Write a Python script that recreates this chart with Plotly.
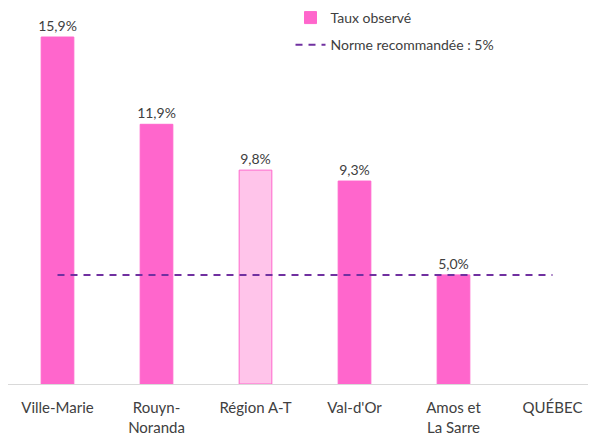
import plotly.graph_objects as go

categories = ["Ville-Marie", "Rouyn-<br>Noranda", "Région A-T", "Val-d'Or", "Amos et<br>La Sarre", "QUÉBEC"]
taux = [15.9, 11.9, 9.8, 9.3, 5.0, None]
norme = [5, 5, 5, 5, 5, 5]
bar_colors = ["#FF66CC", "#FF66CC", "#FFC4EA", "#FF66CC", "#FF66CC", "#FF66CC"]

labels = [("" if v is None else f"{v:.1f}%".replace(".", ",")) for v in taux]

fig = go.Figure()
fig.add_trace(go.Bar(
    x=categories, y=taux, name="Taux observé", legendgroup="a",
    marker=dict(color=bar_colors, line=dict(color="#FF66CC", width=1)),
    text=labels, textposition="outside", cliponaxis=False, constraintext="none",
    textfont=dict(color="#404040", size=14, family="Lato"),
))
fig.add_trace(go.Scatter(
    x=categories, y=norme, name="Norme recommandée : 5%", mode="lines", legendgroup="b",
    line=dict(color="#7030A0", width=2, dash="7px,6px"),
))

fig.update_layout(
    width=596, height=434,
    margin=dict(l=0, r=2, t=0, b=58, autoexpand=False),
    plot_bgcolor="white", paper_bgcolor="white",
    bargap=0.67,
    font=dict(family="Lato", size=14, color="#404040"),
    showlegend=True,
    legend=dict(x=0.4756, y=1.016, xanchor="left", yanchor="top",
                bgcolor="rgba(0,0,0,0)", font=dict(size=14, color="#404040"),
                tracegroupgap=6, itemwidth=30, traceorder="grouped"),
    xaxis=dict(showline=True, linecolor="#D9D9D9", linewidth=1, ticks="",
               tickfont=dict(size=15, color="#404040"), showgrid=False, automargin=False,
               ticklabelstandoff=10),
    yaxis=dict(range=[0, 17.23], visible=False, showgrid=False, automargin=False),
)

fig.write_html("out.html")
